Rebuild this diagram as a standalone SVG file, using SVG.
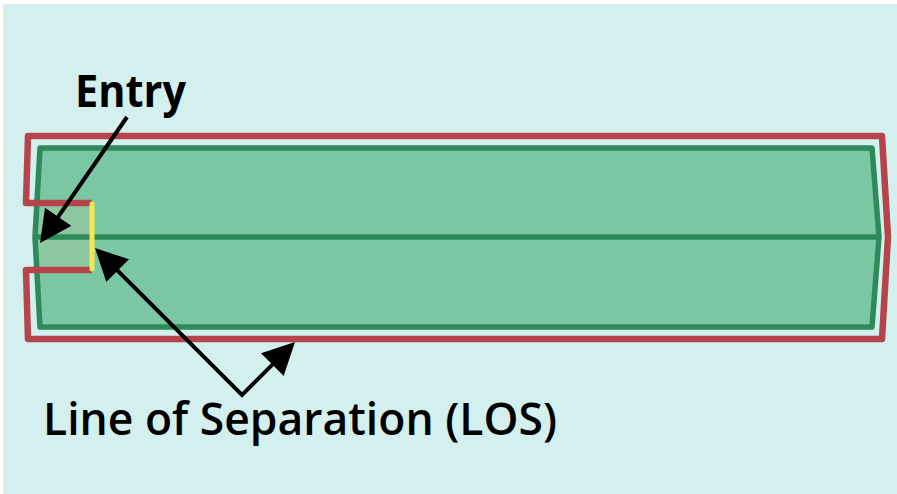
<svg xmlns="http://www.w3.org/2000/svg" width="897" height="494" viewBox="0 0 897 494">
  <style>
    .label { font-family: "Open Sans", "Noto Sans", "Liberation Sans", sans-serif; fill: #000; }
    .arrow { fill: none; stroke: #000; stroke-width: 4; stroke-linejoin: miter; marker-end: url(#head); }
  </style>
  <defs>
    <marker id="head" viewBox="0 0 32 32" refX="22" refY="16" markerWidth="32" markerHeight="32" markerUnits="userSpaceOnUse" orient="auto-start-reverse">
      <path d="M0,0 L32,16 L0,32 Z" fill="#000"/>
    </marker>
  </defs>

  <!-- page background -->
  <rect x="0" y="0" width="897" height="494" fill="#ffffff"/>
  <rect x="3" y="4" width="894" height="490" fill="#d3f0ee"/>

  <!-- green block -->
  <g id="block">
    <path d="M40,148 L872,148 L879,237 L872,327 L40,327 L35,237 Z" fill="#7cc7a3"/>
    <!-- entry zone -->
    <path d="M38,205 L92,205 L92,268 L38,268 L36,237 Z" fill="#8dc7a1"/>
    <path d="M40,148 L872,148 L879,237 L872,327 L40,327 L35,237 Z" fill="none" stroke="#2e8a5a" stroke-width="5.5" stroke-linejoin="round"/>
    <line x1="35" y1="237" x2="879" y2="237" stroke="#2e8a5a" stroke-width="5.5"/>
  </g>

  <!-- separation boundary (red) -->
  <g id="boundary">
    <path d="M92,203 L26,203 L28,136 L882,136 L888,237 L882,339 L28,339 L26,270 L92,270"
          fill="none" stroke="#b5444b" stroke-width="6.5" stroke-linejoin="round" stroke-linecap="butt"/>
  </g>

  <!-- line of separation at the entry -->
  <g id="los-line">
    <line x1="92" y1="204" x2="92" y2="269" stroke="#f3e84a" stroke-width="5" stroke-linecap="round"/>
  </g>

  <!-- connectors -->
  <g id="connectors">
    <path class="arrow" d="M127,117 L45.7,234.8"/>
    <path class="arrow" d="M102.1,255.1 L242,395 L287.9,349.1" marker-start="url(#head)"/>
  </g>

  <!-- labels -->
  <g id="entry-label">
    <text class="label" x="75" y="107" font-size="45" font-weight="700" textLength="111" lengthAdjust="spacingAndGlyphs">Entry</text>
  </g>
  <g id="los-label">
    <text class="label" x="43" y="435" font-size="45" font-weight="600" textLength="514" lengthAdjust="spacingAndGlyphs">Line of Separation (LOS)</text>
  </g>
</svg>
